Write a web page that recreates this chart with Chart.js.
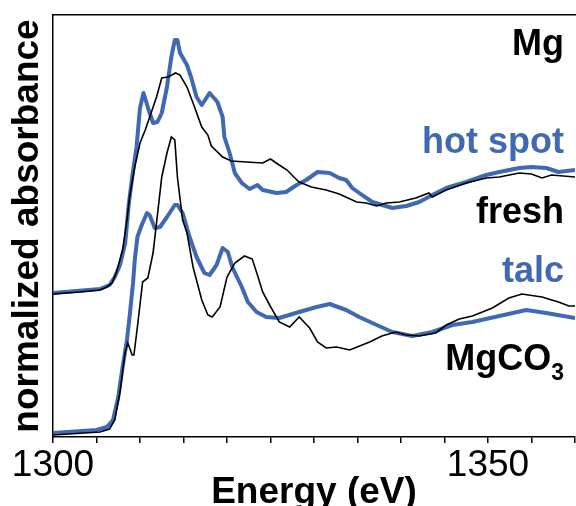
<!DOCTYPE html>
<html>
<head>
<meta charset="utf-8">
<script src="https://cdn.jsdelivr.net/npm/chart.js@4/dist/chart.umd.min.js"></script>
<style>
    html, body { margin: 0; padding: 0; background: #fff; }
    #wrap { width: 576px; height: 506px; }
</style>
</head>
<body>
<div id="wrap"><canvas id="xasChart"></canvas></div>
<script>
// Mg K-edge spectra
const freshEnergy = [1300.0, 1303.1, 1305.4, 1306.2, 1306.8, 1307.3, 1308.0, 1308.5, 1308.8, 1309.4, 1310.0, 1310.6, 1311.2, 1311.9, 1312.5, 1313.2, 1314.1, 1314.6, 1315.4, 1316.1, 1317.1, 1317.8, 1318.2, 1319.5, 1320.5, 1322.2, 1324.1, 1325.0, 1326.0, 1326.9, 1327.8, 1328.3, 1329.7, 1331.4, 1332.9, 1334.9, 1336.0, 1337.2, 1338.3, 1339.8, 1341.7, 1343.2, 1343.6, 1345.2, 1347.5, 1349.8, 1351.3, 1353.6, 1355.0, 1356.2, 1357.3, 1360.0];
const freshAbs = [1.43, 1.45, 1.47, 1.50, 1.54, 1.65, 1.87, 2.17, 2.40, 2.70, 2.94, 3.07, 3.22, 3.40, 3.59, 3.60, 3.64, 3.62, 3.50, 3.34, 3.10, 3.02, 2.91, 2.80, 2.76, 2.75, 2.74, 2.78, 2.72, 2.67, 2.59, 2.55, 2.50, 2.47, 2.43, 2.35, 2.34, 2.31, 2.34, 2.35, 2.39, 2.44, 2.40, 2.47, 2.54, 2.59, 2.60, 2.64, 2.63, 2.59, 2.62, 2.60];

const hotEnergy = [1300.0, 1305.4, 1306.5, 1307.1, 1307.7, 1308.3, 1308.7, 1309.1, 1309.6, 1310.0, 1310.4, 1311.0, 1311.5, 1312.0, 1312.5, 1313.1, 1313.6, 1314.0, 1314.3, 1314.6, 1315.4, 1315.9, 1316.5, 1317.1, 1318.0, 1318.9, 1319.5, 1319.7, 1320.3, 1320.9, 1321.7, 1322.6, 1323.5, 1324.1, 1325.7, 1326.8, 1328.0, 1329.1, 1330.4, 1331.8, 1332.9, 1333.7, 1334.4, 1335.2, 1336.7, 1339.0, 1340.6, 1342.1, 1343.6, 1345.2, 1347.5, 1349.8, 1351.3, 1353.6, 1355.0, 1356.7, 1358.1, 1360.0];
const hotAbs = [1.44, 1.48, 1.52, 1.60, 1.72, 1.94, 2.32, 2.60, 2.90, 3.29, 3.44, 3.27, 3.14, 3.15, 3.24, 3.50, 3.80, 3.97, 3.97, 3.84, 3.72, 3.59, 3.40, 3.32, 3.44, 3.35, 3.20, 3.00, 2.84, 2.64, 2.54, 2.48, 2.52, 2.47, 2.44, 2.45, 2.52, 2.57, 2.65, 2.64, 2.59, 2.57, 2.49, 2.44, 2.35, 2.29, 2.31, 2.35, 2.42, 2.49, 2.55, 2.62, 2.65, 2.69, 2.70, 2.69, 2.65, 2.67];

const carbEnergy = [1300.0, 1305.4, 1306.5, 1307.1, 1307.7, 1308.3, 1308.6, 1309.1, 1309.3, 1309.7, 1310.3, 1310.9, 1311.5, 1311.9, 1312.5, 1313.1, 1313.6, 1314.0, 1314.3, 1314.9, 1315.4, 1316.1, 1317.1, 1317.8, 1318.3, 1319.2, 1320.0, 1320.9, 1322.0, 1322.9, 1323.5, 1324.1, 1324.9, 1326.0, 1327.2, 1328.3, 1329.5, 1330.4, 1331.4, 1332.6, 1334.1, 1336.4, 1337.8, 1339.4, 1340.6, 1342.1, 1344.0, 1345.2, 1346.7, 1348.2, 1350.5, 1352.4, 1353.9, 1356.2, 1358.1, 1359.3, 1360.0];
const carbAbs = [0.02, 0.05, 0.08, 0.17, 0.45, 0.85, 0.94, 0.82, 0.82, 1.10, 1.55, 1.59, 1.84, 2.14, 2.60, 2.84, 3.00, 2.97, 2.60, 2.17, 2.04, 1.70, 1.37, 1.22, 1.20, 1.30, 1.60, 1.74, 1.81, 1.78, 1.62, 1.45, 1.32, 1.15, 1.10, 1.20, 1.09, 0.95, 0.89, 0.90, 0.87, 0.95, 1.01, 1.05, 1.02, 1.01, 1.04, 1.12, 1.18, 1.21, 1.29, 1.39, 1.43, 1.40, 1.35, 1.31, 1.31];

const talcEnergy = [1300.0, 1305.0, 1306.2, 1306.9, 1307.5, 1308.0, 1308.5, 1308.8, 1309.2, 1309.4, 1309.7, 1310.2, 1310.8, 1311.1, 1311.7, 1312.3, 1313.1, 1314.0, 1314.3, 1314.9, 1315.7, 1316.5, 1317.4, 1318.0, 1318.8, 1319.5, 1320.1, 1320.6, 1321.7, 1322.4, 1323.4, 1324.5, 1326.0, 1328.3, 1330.3, 1331.8, 1333.7, 1335.2, 1336.7, 1339.0, 1341.3, 1343.6, 1345.9, 1348.2, 1351.3, 1354.4, 1356.7, 1360.0];
const talcAbs = [0.04, 0.07, 0.10, 0.17, 0.40, 0.70, 0.97, 1.20, 1.54, 1.77, 2.00, 2.12, 2.24, 2.22, 2.09, 2.10, 2.20, 2.32, 2.32, 2.24, 2.00, 1.80, 1.64, 1.62, 1.72, 1.89, 1.85, 1.70, 1.50, 1.35, 1.25, 1.20, 1.19, 1.25, 1.30, 1.33, 1.27, 1.20, 1.14, 1.05, 1.01, 1.05, 1.12, 1.15, 1.21, 1.27, 1.24, 1.19];

const tickLabels = [1300, 1350];

const BLUE = "#4069b4";
const FONT = "'Liberation Sans', Arial, Helvetica, sans-serif";

function toPoints(xs, ys) {
    return xs.map((x, i) => ({ x: x, y: ys[i] }));
}

// curve labels on the right side
const curveLabels = {
    id: "curveLabels",
    afterDraw(chart) {
        const ctx = chart.ctx;
        const right = 564;
        ctx.save();
        ctx.textBaseline = "alphabetic";
        ctx.textAlign = "right";
        ctx.font = "bold 36px " + FONT;

        ctx.fillStyle = "#000";
        ctx.fillText("Mg", right, 55);
        ctx.fillText("fresh", right, 223);

        ctx.fillStyle = BLUE;
        ctx.fillText("hot spot", right, 153);
        ctx.fillText("talc", right, 282);

        // MgCO3 with subscript
        ctx.fillStyle = "#000";
        ctx.font = "bold 23px " + FONT;
        const subW = ctx.measureText("3").width;
        ctx.fillText("3", right, 380);
        ctx.font = "bold 36px " + FONT;
        ctx.fillText("MgCO", right - subW, 370);
        ctx.restore();
    }
};

new Chart(document.getElementById("xasChart"), {
    type: "scatter",
    data: {
        datasets: [
            {
                label: "fresh",
                data: toPoints(freshEnergy, freshAbs),
                showLine: true,
                borderColor: "#000",
                borderWidth: 1.6,
                pointRadius: 0,
                order: 0
            },
            {
                label: "MgCO3",
                data: toPoints(carbEnergy, carbAbs),
                showLine: true,
                borderColor: "#000",
                borderWidth: 1.6,
                pointRadius: 0,
                order: 0
            },
            {
                label: "hot spot",
                data: toPoints(hotEnergy, hotAbs),
                showLine: true,
                borderColor: BLUE,
                borderWidth: 4,
                borderJoinStyle: "round",
                pointRadius: 0,
                order: 1
            },
            {
                label: "talc",
                data: toPoints(talcEnergy, talcAbs),
                showLine: true,
                borderColor: BLUE,
                borderWidth: 4,
                borderJoinStyle: "round",
                pointRadius: 0,
                order: 1
            }
        ]
    },
    options: {
        responsive: true,
        maintainAspectRatio: false,
        animation: false,
        layout: { padding: 0 },
        plugins: {
            legend: { display: false },
            tooltip: { enabled: false }
        },
        scales: {
            x: {
                type: "linear",
                position: "bottom",
                min: 1300,
                max: 1360,
                afterFit: s => { s.height = 69; },
                grid: {
                    display: true,
                    drawOnChartArea: false,
                    drawTicks: true,
                    tickLength: 6,
                    color: "#000",
                    lineWidth: 1.5
                },
                border: { display: true, color: "#000", width: 1.5 },
                ticks: {
                    stepSize: 5,
                    autoSkip: false,
                    maxRotation: 0,
                    padding: 1,
                    color: "#000",
                    font: { family: FONT, size: 37 },
                    callback: v => tickLabels.includes(v) ? String(v) : ""
                },
                title: {
                    display: true,
                    text: "Energy (eV)",
                    color: "#000",
                    font: { family: FONT, size: 37, weight: "bold", lineHeight: 1 },
                    padding: { top: 0, bottom: -5 }
                }
            },
            xTop: {
                axis: "x",
                type: "linear",
                position: "top",
                min: 1300,
                max: 1360,
                afterFit: s => { s.height = 15; },
                grid: { display: false },
                border: { display: true, color: "#000", width: 1.5 },
                ticks: { display: false }
            },
            y: {
                min: 0,
                max: 4.22,
                afterFit: s => { s.width = 53; },
                grid: { display: false },
                border: { display: true, color: "#000", width: 1.5 },
                ticks: { display: false },
                title: {
                    display: true,
                    text: "normalized absorbance",
                    color: "#000",
                    font: { family: FONT, size: 37, weight: "bold", lineHeight: 1.2 },
                    padding: { top: 6, bottom: 0 }
                }
            }
        }
    },
    plugins: [curveLabels]
});
</script>
</body>
</html>
